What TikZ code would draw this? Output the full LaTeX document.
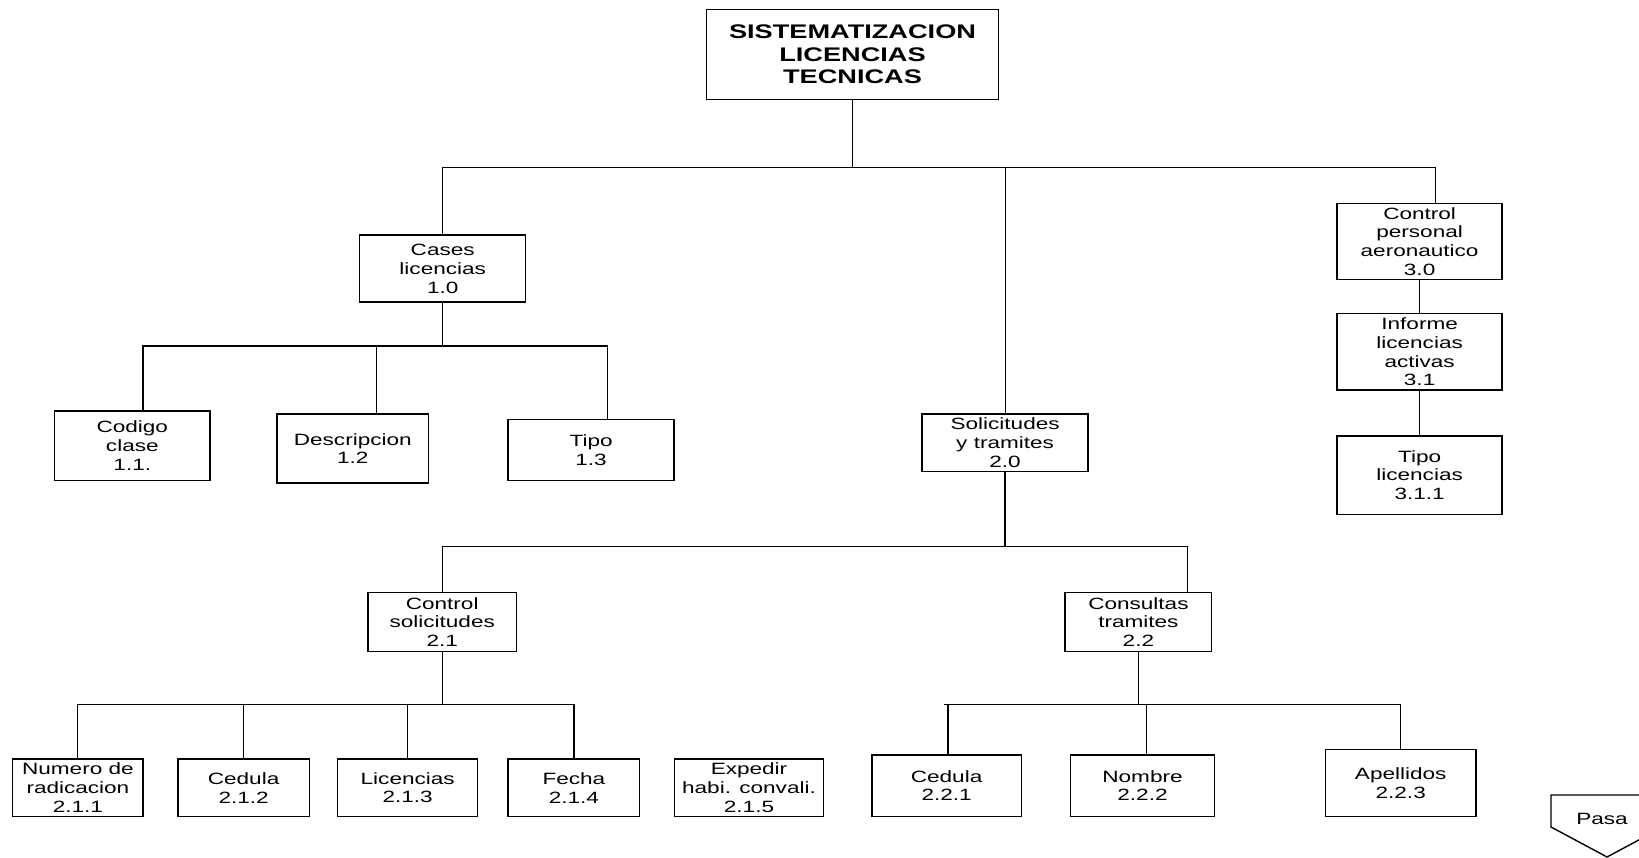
\documentclass[tikz,border=0pt]{standalone}
\usepackage{fontspec}
\setmainfont{Liberation Sans}[FakeStretch=1.38]
\begin{document}
\begin{tikzpicture}[x=0.02cm,y=-0.02cm, line width=0.8pt,
  box/.style={draw, line width=0.8pt, align=center, inner sep=1pt,
    font=\fontsize{9.3}{10.7}\selectfont}]
\useasboundingbox (0,0) rectangle (1639,858);
% nodes
\node[box, minimum width=5.83cm, minimum height=1.80cm,
  font=\fontsize{11.2}{12.9}\selectfont\bfseries] (top) at (852.5,54.4) {SISTEMATIZACION\\LICENCIAS\\TECNICAS};
\node[box, minimum width=3.32cm, minimum height=1.34cm] (cases) at (442.7,268.6) {Cases\\licencias\\1.0};
\node[box, minimum width=3.11cm, minimum height=1.40cm] (codigo) at (132.3,445.8) {Codigo\\clase\\1.1.};
\node[box, minimum width=3.03cm, minimum height=1.38cm] (desc) at (352.8,448.5) {Descripcion\\1.2};
\node[box, minimum width=3.32cm, minimum height=1.23cm] (tipo) at (591.1,450) {Tipo\\1.3};
\node[box, minimum width=3.32cm, minimum height=1.15cm] (sol) at (1005.1,442.7) {Solicitudes\\y tramites\\2.0};
\node[box, minimum width=2.97cm, minimum height=1.17cm] (cs) at (442.2,622) {Control\\solicitudes\\2.1};
\node[box, minimum width=2.93cm, minimum height=1.17cm] (ct) at (1138.4,622) {Consultas\\tramites\\2.2};
\node[box, minimum width=2.61cm, minimum height=1.15cm] (num) at (77.9,787.7) {Numero de\\radicacion\\2.1.1};
\node[box, minimum width=2.63cm, minimum height=1.15cm] (ced1) at (243.6,787.7) {Cedula\\2.1.2};
\node[box, minimum width=2.80cm, minimum height=1.15cm] (lic) at (407.7,787.7) {Licencias\\2.1.3};
\node[box, minimum width=2.63cm, minimum height=1.15cm] (fecha) at (573.9,787.7) {Fecha\\2.1.4};
\node[box, minimum width=2.99cm, minimum height=1.15cm] (exp) at (749,787.7) {Expedir\\habi. convali.\\2.1.5};
\node[box, minimum width=2.99cm, minimum height=1.23cm] (ced2) at (946.6,785.6) {Cedula\\2.2.1};
\node[box, minimum width=2.88cm, minimum height=1.23cm] (nom) at (1142.5,785.6) {Nombre\\2.2.2};
\node[box, minimum width=3.01cm, minimum height=1.34cm] (ape) at (1400.7,783) {Apellidos\\2.2.3};
\node[box, minimum width=3.30cm, minimum height=1.51cm] (cp) at (1419.6,241.5) {Control\\personal\\aeronautico\\3.0};
\node[box, minimum width=3.30cm, minimum height=1.53cm] (inf) at (1419.6,351.8) {Informe\\licencias\\activas\\3.1};
\node[box, minimum width=3.30cm, minimum height=1.57cm] (tl) at (1419.6,475.1) {Tipo\\licencias\\3.1.1};
\node[font=\fontsize{9.3}{10.7}\selectfont] (pasa) at (1602,819) {Pasa};
% level 1
\coordinate (hL) at (442.2,167.3);
\coordinate (hM) at (1005.6,167.3);
\coordinate (hR) at (1435.2,167.3);
\draw (top.south) -- (top.south |- hL);
\draw (hL |- cases.north) -- (hL) -- (hR) -- (hR |- cp.north);
\draw (hM) -- (hM |- sol.north);
% cases children
\coordinate (a1) at (143.2,346);
\coordinate (a2) at (376.3,346);
\coordinate (a3) at (607.3,346);
\draw (cases.south) -- (cases.south |- a1);
\draw (a1 |- codigo.north) -- (a1) -- (a3) -- (a3 |- tipo.north);
\draw (a2) -- (a2 |- desc.north);
% solicitudes children
\coordinate (b1) at (442.2,546.7);
\coordinate (b2) at (1187.5,546.7);
\draw (sol.south) -- (sol.south |- b1);
\draw (b1 |- cs.north) -- (b1) -- (b2) -- (b2 |- ct.north);
% control solicitudes children
\coordinate (c1) at (77.4,704.5);
\coordinate (c2) at (243.6,704.5);
\coordinate (c3) at (407.7,704.5);
\coordinate (c4) at (573.9,704.5);
\draw (cs.south) -- (cs.south |- c1);
\draw (c1 |- num.north) -- (c1) -- (c4) -- (c4 |- fecha.north);
\draw (c2) -- (c2 |- ced1.north);
\draw (c3) -- (c3 |- lic.north);
% consultas children
\coordinate (d0) at (943.9,704.5);
\coordinate (d1) at (948,704.5);
\coordinate (d2) at (1146.7,704.5);
\coordinate (d3) at (1400.7,704.5);
\draw (ct.south) -- (ct.south |- d0);
\draw (d0) -- (d3) -- (d3 |- ape.north);
\draw (d1) -- (d1 |- ced2.north);
\draw (d2) -- (d2 |- nom.north);
% right column
\draw (cp.south) -- (inf.north);
\draw (inf.south) -- (tl.north);
% off-page connector
\begin{scope}
\clip (0,0) rectangle (1639,858);
\draw (1551,795) -- (1663,795) -- (1663,827) -- (1607,857) -- (1551,827) -- cycle;
\end{scope}
\end{tikzpicture}
\end{document}
